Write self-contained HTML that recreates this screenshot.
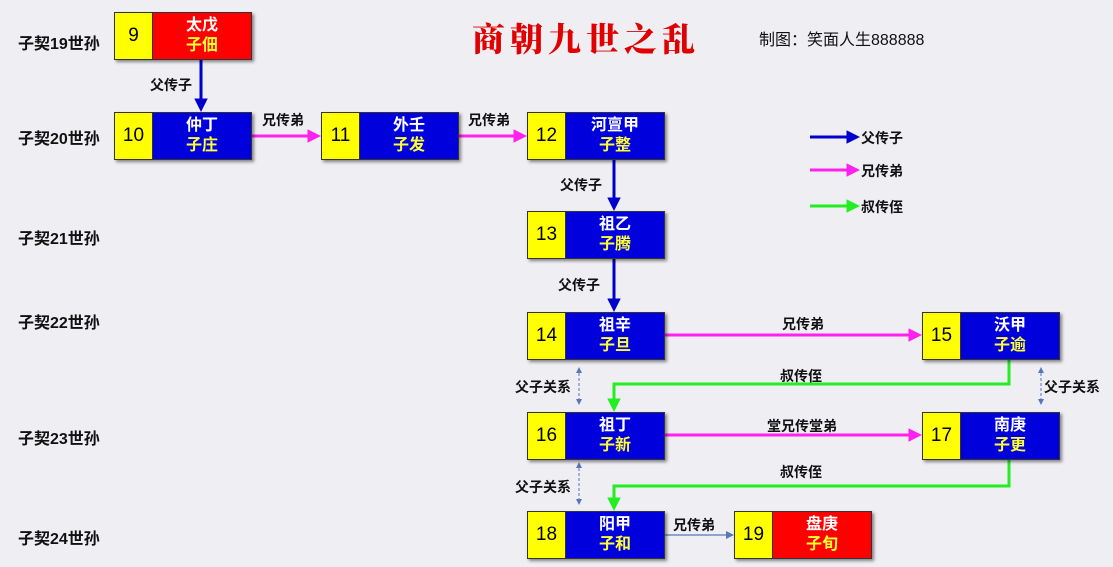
<!DOCTYPE html>
<html><head><meta charset="utf-8"><style>
body{margin:0;width:1113px;height:567px;background:#eeeef3;position:relative;overflow:hidden;font-family:"Liberation Sans","Noto Sans CJK SC",sans-serif;}
.lbl{position:absolute;font-size:16px;font-weight:bold;color:#111;white-space:nowrap;}
.n{position:absolute;width:138px;height:48px;box-shadow:2px 2px 3px rgba(0,0,0,.45);border:1px solid #333;box-sizing:border-box;display:flex;}
.n .y{width:37px;background:#ffff00;border-right:1px solid #333;display:flex;align-items:center;justify-content:center;font-size:19px;color:#000;}
.n .b{flex:1;display:flex;flex-direction:column;align-items:center;justify-content:center;font-weight:bold;font-size:16px;line-height:20px;}
.n .b .a{color:#fff}.n .b .s{color:#ffff33}
.bl{background:#0000dd}.rd{background:#ff0000}
.t{position:absolute;font-size:14px;font-weight:bold;color:#111;white-space:nowrap;}
</style></head><body>
<div class="lbl" style="left:18px;top:30px">子契19世孙</div>
<div class="lbl" style="left:18px;top:125px">子契20世孙</div>
<div class="lbl" style="left:18px;top:225px">子契21世孙</div>
<div class="lbl" style="left:18px;top:309px">子契22世孙</div>
<div class="lbl" style="left:18px;top:425px">子契23世孙</div>
<div class="lbl" style="left:18px;top:525px">子契24世孙</div>

<div style="position:absolute;left:472px;top:14px;font-family:'Noto Serif CJK SC',serif;font-weight:900;font-size:33px;letter-spacing:5px;color:#e00000;">商朝九世之乱</div>
<div style="position:absolute;left:759px;top:26px;font-size:16px;color:#111;">制图：笑面人生888888</div>

<svg width="1113" height="567" style="position:absolute;left:0;top:0">
<defs>
<marker id="ab" markerWidth="4.5" markerHeight="4.5" refX="3.5" refY="2.25" orient="auto" markerUnits="strokeWidth"><path d="M0,0L4.5,2.25L0,4.5z" fill="#0000cc"/></marker>
<marker id="am" markerWidth="4.5" markerHeight="4.5" refX="3.5" refY="2.25" orient="auto" markerUnits="strokeWidth"><path d="M0,0L4.5,2.25L0,4.5z" fill="#ff22ee"/></marker>
<marker id="ag" markerWidth="4.5" markerHeight="4.5" refX="3.5" refY="2.25" orient="auto" markerUnits="strokeWidth"><path d="M0,0L4.5,2.25L0,4.5z" fill="#22ee22"/></marker>
<marker id="as" markerWidth="8" markerHeight="8" refX="7" refY="4" orient="auto" markerUnits="userSpaceOnUse"><path d="M0,0L8,4L0,8z" fill="#5577bb"/></marker>
<marker id="ad" markerWidth="6" markerHeight="6" refX="5" refY="3" orient="auto-start-reverse" markerUnits="userSpaceOnUse"><path d="M0,0L6,3L0,6z" fill="#5577bb"/></marker>
</defs>
<g stroke-width="3" fill="none">
<line x1="201" y1="60" x2="201" y2="109" stroke="#0000cc" marker-end="url(#ab)"/>
<line x1="614" y1="160" x2="614" y2="208" stroke="#0000cc" marker-end="url(#ab)"/>
<line x1="614" y1="259" x2="614" y2="309" stroke="#0000cc" marker-end="url(#ab)"/>
<line x1="252" y1="136" x2="318" y2="136" stroke="#ff22ee" marker-end="url(#am)"/>
<line x1="458" y1="136" x2="524" y2="136" stroke="#ff22ee" marker-end="url(#am)"/>
<line x1="665" y1="335" x2="919" y2="335" stroke="#ff22ee" marker-end="url(#am)"/>
<line x1="665" y1="435" x2="919" y2="435" stroke="#ff22ee" marker-end="url(#am)"/>
<polyline points="1009,360 1009,384 614,384 614,409" stroke="#22ee22" marker-end="url(#ag)"/>
<polyline points="1009,460 1009,486 614,486 614,508" stroke="#22ee22" marker-end="url(#ag)"/>
<line x1="810" y1="137" x2="857" y2="137" stroke="#0000cc" marker-end="url(#ab)"/>
<line x1="810" y1="170" x2="857" y2="170" stroke="#ff22ee" marker-end="url(#am)"/>
<line x1="810" y1="206" x2="857" y2="206" stroke="#22ee22" marker-end="url(#ag)"/>
</g>
<line x1="665" y1="535" x2="733" y2="535" stroke="#5577bb" stroke-width="1.2" marker-end="url(#as)"/>
<g stroke="#5577bb" stroke-width="1" stroke-dasharray="3,2">
<line x1="579" y1="368" x2="579" y2="404" marker-start="url(#ad)" marker-end="url(#ad)"/>
<line x1="579" y1="463" x2="579" y2="504" marker-start="url(#ad)" marker-end="url(#ad)"/>
<line x1="1041" y1="368" x2="1041" y2="404" marker-start="url(#ad)" marker-end="url(#ad)"/>
</g>
</svg>

<div class="t" style="left:150px;top:75px">父传子</div>
<div class="t" style="left:262px;top:110px">兄传弟</div>
<div class="t" style="left:468px;top:110px">兄传弟</div>
<div class="t" style="left:560px;top:175px">父传子</div>
<div class="t" style="left:558px;top:275px">父传子</div>
<div class="t" style="left:782px;top:314px">兄传弟</div>
<div class="t" style="left:780px;top:366px">叔传侄</div>
<div class="t" style="left:767px;top:416px">堂兄传堂弟</div>
<div class="t" style="left:780px;top:462px">叔传侄</div>
<div class="t" style="left:673px;top:515px">兄传弟</div>
<div class="t" style="left:515px;top:377px">父子关系</div>
<div class="t" style="left:515px;top:477px">父子关系</div>
<div class="t" style="left:1044px;top:377px">父子关系</div>
<div class="t" style="left:861px;top:128px">父传子</div>
<div class="t" style="left:861px;top:161px">兄传弟</div>
<div class="t" style="left:861px;top:197px">叔传侄</div>

<div class="n" style="left:114px;top:12px"><div class="y">9</div><div class="b rd"><span class="a">太戊</span><span class="s">子佃</span></div></div>
<div class="n" style="left:114px;top:112px"><div class="y">10</div><div class="b bl"><span class="a">仲丁</span><span class="s">子庄</span></div></div>
<div class="n" style="left:321px;top:112px"><div class="y">11</div><div class="b bl"><span class="a">外壬</span><span class="s">子发</span></div></div>
<div class="n" style="left:527px;top:112px"><div class="y">12</div><div class="b bl"><span class="a">河亶甲</span><span class="s">子整</span></div></div>
<div class="n" style="left:527px;top:211px"><div class="y">13</div><div class="b bl"><span class="a">祖乙</span><span class="s">子腾</span></div></div>
<div class="n" style="left:527px;top:312px"><div class="y">14</div><div class="b bl"><span class="a">祖辛</span><span class="s">子旦</span></div></div>
<div class="n" style="left:922px;top:312px"><div class="y">15</div><div class="b bl"><span class="a">沃甲</span><span class="s">子逾</span></div></div>
<div class="n" style="left:527px;top:412px"><div class="y">16</div><div class="b bl"><span class="a">祖丁</span><span class="s">子新</span></div></div>
<div class="n" style="left:922px;top:412px"><div class="y">17</div><div class="b bl"><span class="a">南庚</span><span class="s">子更</span></div></div>
<div class="n" style="left:527px;top:511px"><div class="y">18</div><div class="b bl"><span class="a">阳甲</span><span class="s">子和</span></div></div>
<div class="n" style="left:734px;top:511px"><div class="y">19</div><div class="b rd"><span class="a">盘庚</span><span class="s">子旬</span></div></div>
</body></html>
